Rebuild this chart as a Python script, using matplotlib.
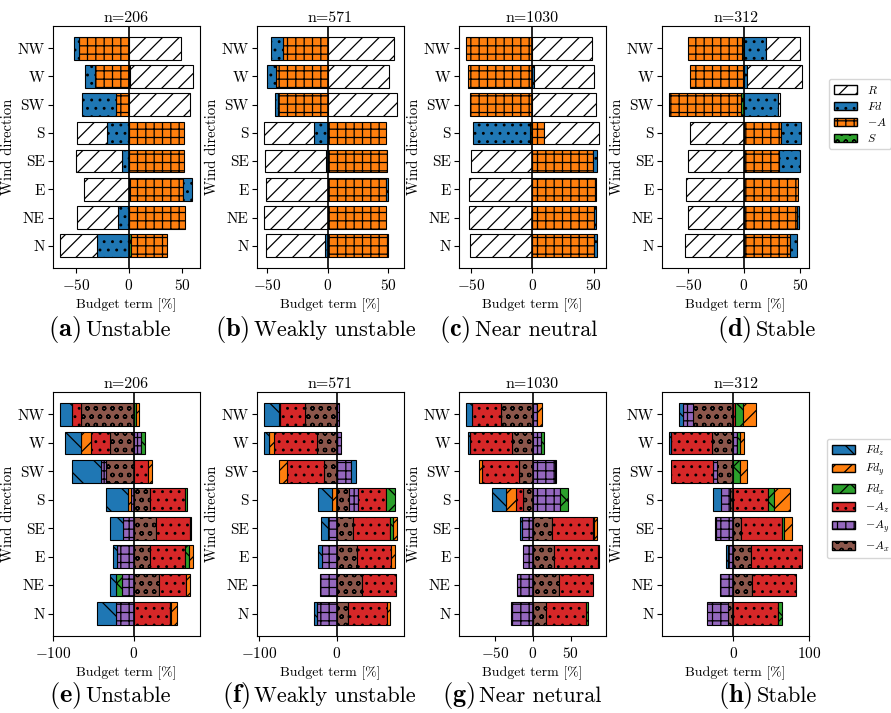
import numpy as np
import matplotlib
matplotlib.use("Agg")
import matplotlib.pyplot as plt
import matplotlib.patches as mpatches

plt.rcParams["font.family"] = "serif"
plt.rcParams["font.serif"] = ["cmr10"]
plt.rcParams["mathtext.fontset"] = "cm"
plt.rcParams["axes.formatter.use_mathtext"] = True
plt.rcParams["hatch.linewidth"] = 0.9

# Wind sectors, bottom to top
directions = ["N", "NE", "E", "SE", "S", "SW", "W", "NW"]

# Momentum budget terms [%]: rows R, Fd, -A, S
budget_unstable = [
    [-35.1, -37.9, -42.5, -43.8, -28.0, 57.5, 60.0, 48.8],
    [-30.1, -10.6, 7.8, -6.2, -21.1, -32.0, -9.9, -5.6],
    [33.5, 52.5, 50.6, 51.6, 51.9, -12.4, -31.7, -46.6],
    [2.0, 0.0, 0.5, 0.0, 0.0, 0.0, 0.5, 0.0],
]
budget_weakly = [
    [-48.5, -52.3, -51.0, -50.7, -41.9, 57.3, 50.4, 54.5],
    [-2.5, 0.0, 1.7, -1.4, -11.0, -1.9, -7.7, -9.9],
    [49.9, 47.9, 48.2, 49.0, 47.7, -41.3, -42.4, -36.6],
    [0.0, 0.0, 0.0, 0.0, 0.0, 0.0, 0.0, 0.0],
]
budget_neutral = [
    [-50.5, -51.6, -51.4, -50.0, 45.1, 51.9, 48.4, 48.4],
    [2.2, 1.0, 0.5, 3.2, -46.5, 0.0, 1.6, 0.0],
    [50.5, 50.5, 51.4, 49.5, 9.5, -50.8, -52.4, -54.3],
    [0.0, 0.0, 0.0, 0.0, -1.6, 0.0, 0.0, 0.0],
]
budget_stable = [
    [-52.4, -50.3, -51.5, -50.3, -48.5, 2.1, 49.7, 30.2],
    [6.5, 1.8, 0.0, 18.3, 17.8, 30.5, 2.4, 20.1],
    [40.8, 47.6, 48.5, 31.4, 33.4, -64.5, -47.3, -47.9],
    [0.0, 0.0, 0.0, 0.0, 0.0, -2.7, -0.5, -2.1],
]

# Component split [%]: rows Fd_z, Fd_y, Fd_x, -A_z, -A_y, -A_x
comp_unstable = [
    [-23.0, -6.6, -4.9, -15.6, -26.7, -35.4, -19.8, -15.2],
    [7.0, 5.3, 5.8, 0.0, -4.5, 4.1, -12.3, 4.0],
    [1.6, -7.8, 4.5, 0.8, 2.5, 0.0, 5.8, 3.0],
    [44.9, 33.7, 43.2, 42.4, 43.2, 18.1, -23.5, -11.5],
    [-22.6, -14.8, -21.0, -13.6, -2.9, -6.2, 8.6, 0.0],
    [0.0, 30.9, 20.2, 27.6, 20.2, -35.0, -30.0, -65.0],
]
comp_weakly = [
    [-4.3, 0.0, -4.7, -9.0, -18.5, 5.6, -5.6, -20.3],
    [3.4, 0.0, 5.2, 5.6, -6.0, -10.8, -6.5, 0.0],
    [0.0, 0.0, 0.0, 4.3, 11.2, 0.0, 0.0, -1.3],
    [50.9, 44.4, 43.1, 47.4, 36.2, -47.4, -55.2, -31.5],
    [-25.4, -22.0, -19.8, -11.2, 11.6, 18.5, 4.7, 3.0],
    [14.2, 31.9, 26.3, 20.7, 15.5, -16.8, -26.3, -41.4],
]
comp_neutral = [
    [0.0, 0.0, 0.0, -2.2, -19.7, 0.8, -3.0, -7.9],
    [0.0, 0.0, 0.0, 3.5, -13.2, -4.4, 0.0, 6.1],
    [2.2, 0.0, 1.3, 2.2, 10.1, 0.0, 3.5, 0.0],
    [52.6, 45.6, 59.2, 54.0, -8.8, -48.7, -55.7, -38.2],
    [-28.5, -20.6, -13.2, -14.5, 36.0, 29.4, 11.0, 5.7],
    [17.5, 34.2, 27.2, 25.0, -13.2, -18.4, -27.6, -43.0],
]
comp_stable = [
    [0.0, 0.0, -2.2, -1.3, -11.0, 0.0, -2.6, -5.3],
    [0.0, 0.0, 0.0, 9.7, 20.7, 9.7, 5.7, 16.3],
    [5.3, 0.0, 0.0, 3.5, 8.8, 8.8, 3.5, 11.0],
    [59.5, 58.1, 68.3, 52.9, 45.4, -55.1, -54.6, 2.2],
    [-27.8, -16.7, -6.6, -22.9, -11.9, -5.3, 5.3, -13.2],
    [-6.6, 24.2, 22.9, 11.0, -3.5, -21.1, -27.8, -52.9],
]

sample_sizes = [206, 571, 1030, 312]
captions_top = ["Unstable", "Weakly unstable", "Near neutral", "Stable"]
captions_bottom = ["Unstable", "Weakly unstable", "Near netural", "Stable"]

top_labels = [r"$R$", r"$Fd$", r"$-A$", r"$S$"]
top_colors = ["white", "#1f77b4", "#ff7f0e", "#2ca02c"]
top_hatches = ["//", "..", "++", "oo"]

bottom_labels = [r"$Fd_z$", r"$Fd_y$", r"$Fd_x$", r"$-A_z$", r"$-A_y$", r"$-A_x$"]
bottom_colors = ["#1f77b4", "#ff7f0e", "#2ca02c", "#d62728", "#9467bd", "#8c564b"]
bottom_hatches = ["\\", "//", "x", "..", "++", "oo"]

top_xticks = [[-50, 0, 50]] * 4
bottom_xticks = [[-100, 0], [-100, 0], [-50, 0, 50], [0, 100]]


def stacked_panel(ax, values, colors, hatches, xticks, n):
    y = np.arange(len(directions))
    pos = np.zeros(len(directions))
    neg = np.zeros(len(directions))
    # last term sits nearest to zero, first term furthest out
    for k in reversed(range(len(values))):
        v = np.asarray(values[k], dtype=float)
        left = np.where(v >= 0, pos, neg)
        keep = v != 0
        ax.barh(y[keep], v[keep], left=left[keep], height=0.8,
                color=colors[k], hatch=hatches[k], edgecolor="k",
                linewidth=0.8, zorder=2)
        pos += np.clip(v, 0, None)
        neg += np.clip(v, None, 0)
    ax.axvline(0, color="k", lw=1.2, zorder=3)
    ax.set_yticks(y)
    ax.set_yticklabels(directions, fontsize=11)
    ax.tick_params(axis="y", pad=2.5)
    ax.set_xticks(xticks)
    ax.tick_params(axis="x", labelsize=11)
    ax.set_xlabel("Budget term [%]", fontsize=10)
    ax.set_ylabel("Wind direction", fontsize=10.5, labelpad=2)
    ax.set_title(f"n={n}", fontsize=11.5, pad=3)


fig = plt.figure(figsize=(8.91, 7.13), dpi=100)
W, H = 891, 713
lefts = [53, 257, 459, 662]
width = 147

top_sets = [budget_unstable, budget_weakly, budget_neutral, budget_stable]
bottom_sets = [comp_unstable, comp_weakly, comp_neutral, comp_stable]

for i in range(4):
    ax = fig.add_axes([lefts[i] / W, 1 - 268 / H, width / W, 242 / H])
    stacked_panel(ax, top_sets[i], top_colors, top_hatches, top_xticks[i], sample_sizes[i])
    ax = fig.add_axes([lefts[i] / W, 1 - 636 / H, width / W, 244 / H])
    stacked_panel(ax, bottom_sets[i], bottom_colors, bottom_hatches, bottom_xticks[i], sample_sizes[i])

top_handles = [mpatches.Patch(facecolor=c, edgecolor="k", hatch=h, label=l)
               for c, h, l in zip(top_colors, top_hatches, top_labels)]
bottom_handles = [mpatches.Patch(facecolor=c, edgecolor="k", hatch=h, label=l)
                  for c, h, l in zip(bottom_colors, bottom_hatches, bottom_labels)]
fig.legend(handles=top_handles, loc="upper left", bbox_to_anchor=(829 / W, 1 - 79 / H),
           fontsize=8.5, borderaxespad=0, labelspacing=0.35)
fig.legend(handles=bottom_handles, loc="upper left", bbox_to_anchor=(827 / W, 1 - 439 / H),
           fontsize=8.5, borderaxespad=0, labelspacing=0.35)

# panel captions: bold letter, then stability class
letters_top = ["(a)", "(b)", "(c)", "(d)"]
letters_bottom = ["(e)", "(f)", "(g)", "(h)"]
split_top = [81, 250, 471, 752]
split_bottom = [81, 250, 475, 753]
for i in range(4):
    for letters, caps, splits, ybase in [(letters_top, captions_top, split_top, 336),
                                         (letters_bottom, captions_bottom, split_bottom, 702)]:
        fig.text(splits[i] / W, 1 - ybase / H, r"$\mathbf{%s}$" % letters[i],
                 fontsize=19, ha="right", va="baseline")
        fig.text((splits[i] + 4) / W, 1 - ybase / H, caps[i],
                 fontsize=16, ha="left", va="baseline")

fig.savefig("out.png", dpi=100, facecolor="white")
